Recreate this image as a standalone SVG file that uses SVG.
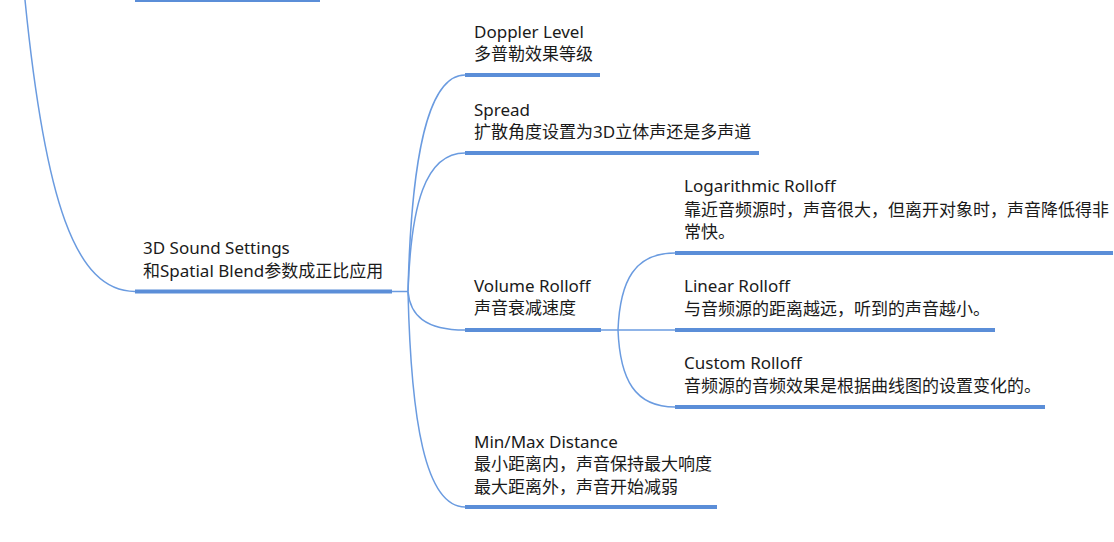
<svg xmlns="http://www.w3.org/2000/svg" width="1114" height="542" viewBox="0 0 1114 542">
<style>
.bar{stroke:#5B8ED8;stroke-width:4;fill:none}
.ln{stroke:#6A9BE0;stroke-width:1.5;fill:none}
text{font-family:"Noto Sans","Noto Sans CJK SC",sans-serif;font-size:17px;fill:#1a1a1a}
</style>
<rect width="1114" height="542" fill="#ffffff"/>
<g id="connectors">
<path class="ln" d="M25,0 C45,200 75,291.5 135,291.5"/>
<path class="ln" d="M392,291.5 L408,291.5"/>
<path class="ln" d="M408,291.5 C411,170 425,75 465,75"/>
<path class="ln" d="M408,291.5 C411,205 425,153 465,153"/>
<path class="ln" d="M408,291.5 C410,315 425,330 465,330"/>
<path class="ln" d="M408,291.5 C411,420 425,507 465,507"/>
<path class="ln" d="M601,330 L675,330"/>
<path class="ln" d="M618,330 C620,280 635,253 675,253"/>
<path class="ln" d="M618,330 C620,380 635,407 675,407"/>
</g>
<g id="node-parent-top">
<line class="bar" x1="135" y1="0" x2="320" y2="0"/>
</g>
<g id="node-3d-sound">
<line class="bar" x1="135" y1="291.5" x2="392" y2="291.5"/>
<text x="143" y="254">3D Sound Settings</text>
<text x="143" y="277">和Spatial Blend参数成正比应用</text>
</g>
<g id="node-doppler">
<line class="bar" x1="465" y1="75" x2="600" y2="75"/>
<text x="474" y="38">Doppler Level</text>
<text x="474" y="60">多普勒效果等级</text>
</g>
<g id="node-spread">
<line class="bar" x1="465" y1="153" x2="759" y2="153"/>
<text x="474" y="116">Spread</text>
<text x="474" y="138">扩散角度设置为3D立体声还是多声道</text>
</g>
<g id="node-volume">
<line class="bar" x1="465" y1="330" x2="601" y2="330"/>
<text x="474" y="292">Volume Rolloff</text>
<text x="474" y="314">声音衰减速度</text>
</g>
<g id="node-minmax">
<line class="bar" x1="465" y1="507" x2="717" y2="507"/>
<text x="474" y="448">Min/Max Distance</text>
<text x="474" y="470">最小距离内，声音保持最大响度</text>
<text x="474" y="493">最大距离外，声音开始减弱</text>
</g>
<g id="node-log">
<line class="bar" x1="675" y1="253" x2="1113" y2="253"/>
<text x="684" y="192">Logarithmic Rolloff</text>
<text x="684" y="216">靠近音频源时，声音很大，但离开对象时，声音降低得非</text>
<text x="684" y="238">常快。</text>
</g>
<g id="node-linear">
<line class="bar" x1="675" y1="330" x2="995" y2="330"/>
<text x="684" y="292">Linear Rolloff</text>
<text x="684" y="315">与音频源的距离越远，听到的声音越小。</text>
</g>
<g id="node-custom">
<line class="bar" x1="675" y1="407" x2="1045" y2="407"/>
<text x="684" y="369">Custom Rolloff</text>
<text x="684" y="392">音频源的音频效果是根据曲线图的设置变化的。</text>
</g>
</svg>
